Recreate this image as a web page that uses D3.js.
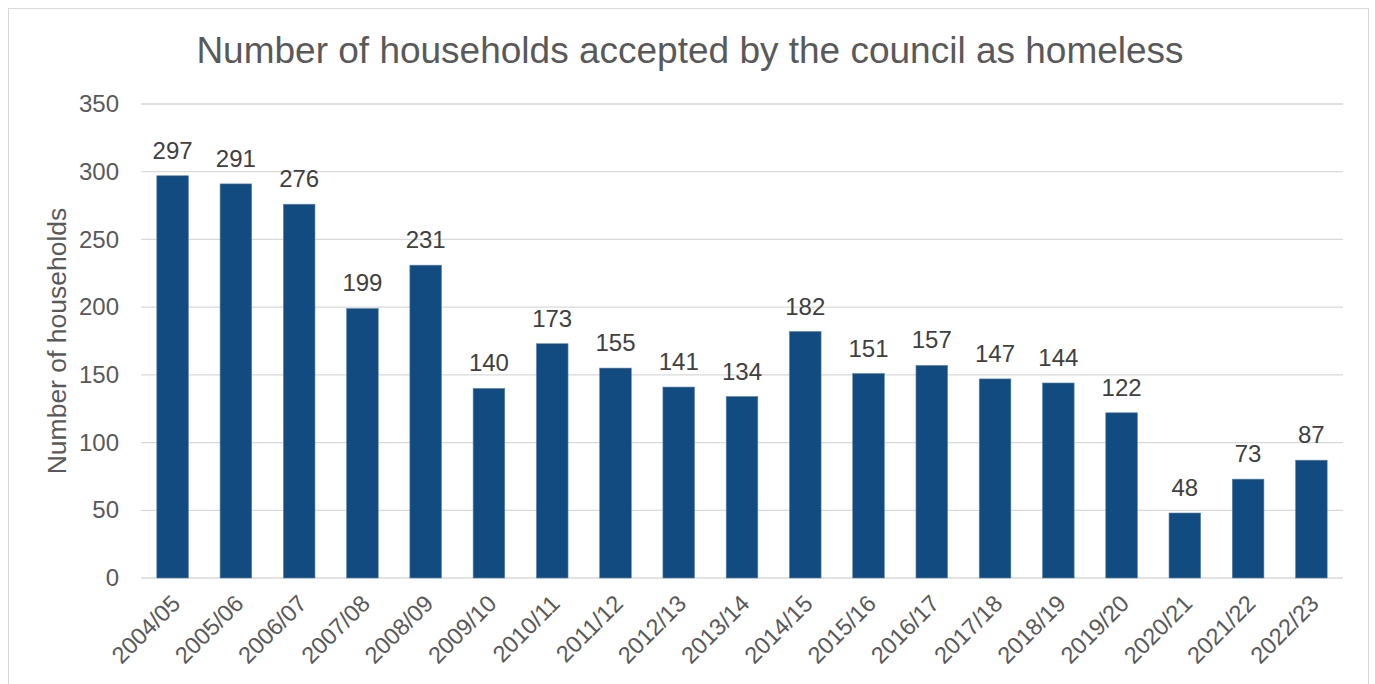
<!DOCTYPE html>
<html>
<head>
<meta charset="utf-8">
<script src="https://cdn.jsdelivr.net/npm/d3@7"></script>
<style>
  body { margin: 0; background: #fff; }
  svg { font-family: "Liberation Sans", Arial, sans-serif; }
</style>
</head>
<body>
<svg id="chart"></svg>
<script>
const years = ["2004/05","2005/06","2006/07","2007/08","2008/09","2009/10","2010/11","2011/12","2012/13","2013/14","2014/15","2015/16","2016/17","2017/18","2018/19","2019/20","2020/21","2021/22","2022/23"];
const households = [297,291,276,199,231,140,173,155,141,134,182,151,157,147,144,122,48,73,87];
const yTicks = [0,50,100,150,200,250,300,350];

const width = 1375, height = 684;
const margin = {top: 104, right: 32, bottom: 106, left: 141};

const svg = d3.select("#chart").attr("width", width).attr("height", height);

// chart frame
svg.append("rect")
  .attr("x", 8.5).attr("y", 8.5)
  .attr("width", 1360).attr("height", 700)
  .attr("fill", "#fff").attr("stroke", "#d9d9d9");

const x = d3.scaleBand().domain(years)
  .range([margin.left, width - margin.right])
  .paddingInner(0.5).paddingOuter(0.25);
const y = d3.scaleLinear().domain([0, 350])
  .range([height - margin.bottom, margin.top]);

// gridlines
svg.append("g")
  .selectAll("line").data(yTicks).enter().append("line")
  .attr("x1", margin.left).attr("x2", width - margin.right)
  .attr("y1", d => y(d)).attr("y2", d => y(d))
  .attr("stroke", "#d9d9d9").attr("stroke-width", 1.3);

// y axis labels
const yAxis = d3.axisLeft(y).tickValues(yTicks).tickSize(0).tickPadding(22);
svg.append("g")
  .attr("transform", `translate(${margin.left},0)`)
  .call(yAxis)
  .call(g => g.select(".domain").remove())
  .selectAll("text")
  .attr("fill", "#595959").style("font-size", "24px");

// bars
svg.append("g").selectAll("rect").data(households).enter().append("rect")
  .attr("x", (d, i) => x(years[i]))
  .attr("y", d => y(d))
  .attr("width", x.bandwidth())
  .attr("height", d => y(0) - y(d))
  .attr("fill", "#114b80")
  .attr("stroke", "#5f86ad").attr("stroke-width", 0.6);

// data labels
svg.append("g").selectAll("text").data(households).enter().append("text")
  .attr("x", (d, i) => x(years[i]) + x.bandwidth() / 2)
  .attr("y", d => y(d) - 17)
  .attr("text-anchor", "middle")
  .attr("fill", "#404040")
  .style("font-size", "24px")
  .text(d => d);

// x axis labels
const xAxis = d3.axisBottom(x).tickSize(0).tickPadding(0);
svg.append("g")
  .attr("transform", `translate(0,${y(0)})`)
  .call(xAxis)
  .call(g => g.select(".domain").remove())
  .selectAll("text")
  .attr("fill", "#595959").style("font-size", "23.5px")
  .attr("text-anchor", "end")
  .attr("dy", null)
  .attr("transform", d => `translate(9,27) rotate(-45)`);

// y axis title
svg.append("text")
  .attr("transform", `translate(66,${(y(0) + y(350)) / 2}) rotate(-90)`)
  .attr("text-anchor", "middle")
  .attr("fill", "#595959")
  .style("font-size", "26.5px")
  .text("Number of households");

// title
svg.append("text")
  .attr("x", 690).attr("y", 63)
  .attr("text-anchor", "middle")
  .attr("fill", "#595959")
  .style("font-size", "37px")
  .text("Number of households accepted by the council as homeless");
</script>
</body>
</html>
